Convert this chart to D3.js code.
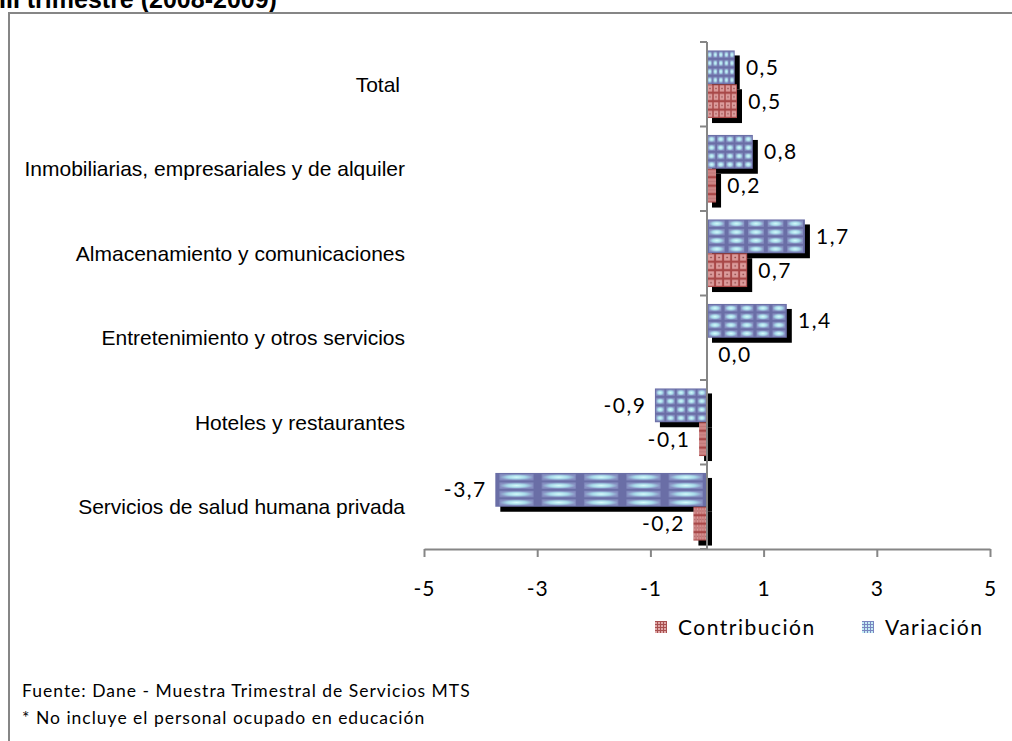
<!DOCTYPE html>
<html>
<head>
<meta charset="utf-8">
<script src="https://cdn.jsdelivr.net/npm/d3@7"></script>
<style>
  body { margin: 0; background: #fff; }
  svg { display: block; }
</style>
</head>
<body>
<script>
//chart data, top row first
var categories = [
    "Total",
    "Inmobiliarias, empresariales y de alquiler",
    "Almacenamiento y comunicaciones",
    "Entretenimiento y otros servicios",
    "Hoteles y restaurantes",
    "Servicios de salud humana privada"
];
var variacion = [0.49, 0.81, 1.73, 1.41, -0.92, -3.74];
var contribucion = [0.53, 0.16, 0.71, 0.0, -0.14, -0.24];
var xTicks = [-5, -3, -1, 1, 3, 5];
var seriesNames = ["Contribución", "Variación"];
var footnotes = [
    "Fuente: Dane - Muestra Trimestral de Servicios MTS",
    "* No incluye el personal ocupado en educación"
];

window.onload = drawChart();

function drawChart() {
    var width = 1012,
        height = 741;

    var svg = d3.select("body")
        .append("svg")
        .attr("width", width)
        .attr("height", height);

    var defs = svg.append("defs");

    //blue cell gradient + pattern stretched over each bar (5 x 4 cells)
    var gBlue = defs.append("radialGradient").attr("id", "gBlue");
    gBlue.append("stop").attr("offset", "0%").attr("stop-color", "#d8fcfc");
    gBlue.append("stop").attr("offset", "55%").attr("stop-color", "#a8dcea");
    gBlue.append("stop").attr("offset", "100%").attr("stop-color", "#8790c2");

    var pBlue = defs.append("pattern")
        .attr("id", "pVar")
        .attr("patternUnits", "objectBoundingBox")
        .attr("patternContentUnits", "objectBoundingBox")
        .attr("width", 0.2).attr("height", 0.25);
    pBlue.append("rect").attr("width", 0.2).attr("height", 0.25).attr("fill", "#6a6ea6");
    pBlue.append("rect").attr("x", 0.02).attr("y", 0.035)
        .attr("width", 0.16).attr("height", 0.18).attr("fill", "url(#gBlue)");

    //red cells with a dark dot in the middle
    var pRed = defs.append("pattern")
        .attr("id", "pCon")
        .attr("patternUnits", "objectBoundingBox")
        .attr("patternContentUnits", "objectBoundingBox")
        .attr("width", 0.2).attr("height", 0.25);
    pRed.append("rect").attr("width", 0.2).attr("height", 0.25).attr("fill", "#a84848");
    pRed.append("rect").attr("x", 0.025).attr("y", 0.035)
        .attr("width", 0.15).attr("height", 0.18).attr("fill", "#dc9c9c");
    pRed.append("rect").attr("x", 0.085).attr("y", 0.105)
        .attr("width", 0.03).attr("height", 0.04).attr("fill", "#6a2828");

    //small fixed patterns for the legend keys
    var lRed = defs.append("pattern").attr("id", "lRed")
        .attr("patternUnits", "userSpaceOnUse").attr("width", 3).attr("height", 3);
    lRed.append("rect").attr("width", 3).attr("height", 3).attr("fill", "#a85050");
    lRed.append("rect").attr("x", 1).attr("y", 1).attr("width", 2).attr("height", 2).attr("fill", "#e0a8a8");
    var lBlue = defs.append("pattern").attr("id", "lBlue")
        .attr("patternUnits", "userSpaceOnUse").attr("width", 3).attr("height", 3);
    lBlue.append("rect").attr("width", 3).attr("height", 3).attr("fill", "#7a86c0");
    lBlue.append("rect").attr("x", 1).attr("y", 1).attr("width", 2).attr("height", 2).attr("fill", "#c4ecf4");

    //title, mostly cut off by the top edge (as in the source picture)
    svg.append("text")
        .attr("x", -1)
        .attr("y", 8)
        .attr("font-family", "Liberation Sans, Arial, sans-serif")
        .attr("font-weight", "bold")
        .attr("font-size", "25px")
        .text("III trimestre (2008-2009)");

    //chart frame (only left and top edges are inside the picture)
    svg.append("rect")
        .attr("x", 9).attr("y", 13)
        .attr("width", 1200).attr("height", 900)
        .attr("fill", "none")
        .attr("stroke", "#868686")
        .attr("stroke-width", 2);

    //scales
    var x = d3.scaleLinear().domain([-5, 5]).range([424, 990]);
    var y = d3.scaleBand().domain(categories).range([42, 549]);
    var barH = y.bandwidth() / 2.5;
    var gap = y.bandwidth() - 2 * barH;

    var rows = categories.map(function(c, i) {
        return { cat: c, v: variacion[i], c: contribucion[i] };
    });

    var bars = [];
    rows.forEach(function(r) {
        bars.push({ cat: r.cat, val: r.v, top: y(r.cat) + gap / 2, fill: "url(#pVar)" });
        bars.push({ cat: r.cat, val: r.c, top: y(r.cat) + gap / 2 + barH, fill: "url(#pCon)" });
    });

    //shadows first, then bars on top
    svg.append("g").selectAll("rect")
        .data(bars)
        .enter()
        .append("rect")
        .attr("x", function(d) { return Math.min(x(0), x(d.val)) + 5; })
        .attr("y", function(d) { return d.top + 5; })
        .attr("width", function(d) { return Math.abs(x(d.val) - x(0)); })
        .attr("height", barH)
        .attr("fill", "#000");

    svg.append("g").selectAll("rect")
        .data(bars)
        .enter()
        .append("rect")
        .attr("x", function(d) { return Math.min(x(0), x(d.val)); })
        .attr("y", function(d) { return d.top; })
        .attr("width", function(d) { return Math.abs(x(d.val) - x(0)); })
        .attr("height", barH)
        .attr("fill", function(d) { return d.fill; });

    //data labels
    svg.append("g").selectAll("text")
        .data(bars)
        .enter()
        .append("text")
        .attr("x", function(d) { return d.val >= 0 ? x(d.val) + 28 : x(d.val) - 30; })
        .attr("y", function(d) { return d.top + barH / 2; })
        .attr("dy", "0.36em")
        .attr("text-anchor", "middle")
        .attr("font-family", "Lato, sans-serif")
        .attr("font-size", "21px")
        .attr("letter-spacing", "1.5px")
        .attr("fill", "#000")
        .text(function(d) { return d.val.toFixed(1).replace(".", ","); });

    //category labels
    svg.append("g").selectAll("text")
        .data(categories)
        .enter()
        .append("text")
        .attr("x", function(d, i) { return i == 0 ? 400 : 405; })
        .attr("y", function(d) { return y(d) + y.bandwidth() / 2; })
        .attr("dy", "0.35em")
        .attr("text-anchor", "end")
        .attr("font-family", "Liberation Sans, Arial, sans-serif")
        .attr("font-size", "21px")
        .text(function(d) { return d; });

    //vertical category axis at zero
    var vAxis = svg.append("g").attr("stroke", "#868686").attr("stroke-width", 2);
    vAxis.append("line")
        .attr("x1", x(0)).attr("x2", x(0))
        .attr("y1", 42).attr("y2", 549);
    vAxis.selectAll(".tk")
        .data(categories.map(function(c) { return y(c); }).concat([549]))
        .enter()
        .append("line")
        .attr("class", "tk")
        .attr("x1", x(0) - 7).attr("x2", x(0))
        .attr("y1", function(d) { return d; })
        .attr("y2", function(d) { return d; });

    //value axis
    var xAxis = svg.append("g")
        .attr("transform", "translate(0,549)")
        .call(d3.axisBottom(x)
            .tickValues(xTicks)
            .tickSize(8)
            .tickSizeOuter(0)
            .tickPadding(24)
            .tickFormat(function(d) { return String(d); }));
    xAxis.select(".domain").attr("stroke", "#868686").attr("stroke-width", 2);
    xAxis.selectAll(".tick line").attr("stroke", "#868686").attr("stroke-width", 2);
    xAxis.selectAll(".tick text")
        .attr("font-family", "Lato, sans-serif")
        .attr("font-size", "21px")
        .attr("letter-spacing", "1px")
        .attr("fill", "#000");

    //legend
    var legend = svg.append("g");
    var legendX = [655, 862];
    var legendFill = ["url(#lRed)", "url(#lBlue)"];
    seriesNames.forEach(function(name, i) {
        legend.append("rect")
            .attr("x", legendX[i]).attr("y", 621)
            .attr("width", 12).attr("height", 12)
            .attr("fill", legendFill[i]);
        legend.append("text")
            .attr("x", legendX[i] + 23).attr("y", 627)
            .attr("dy", "0.36em")
            .attr("font-family", "Lato, sans-serif")
            .attr("font-size", "21px")
            .attr("letter-spacing", "1.5px")
            .text(name);
    });

    //source notes
    svg.append("g").selectAll("text")
        .data(footnotes)
        .enter()
        .append("text")
        .attr("x", 22)
        .attr("y", function(d, i) { return 691 + i * 27; })
        .attr("dy", "0.36em")
        .attr("font-family", "Lato, sans-serif")
        .attr("font-size", "17.5px")
        .attr("letter-spacing", "1px")
        .text(function(d) { return d; });
}
</script>
</body>
</html>
